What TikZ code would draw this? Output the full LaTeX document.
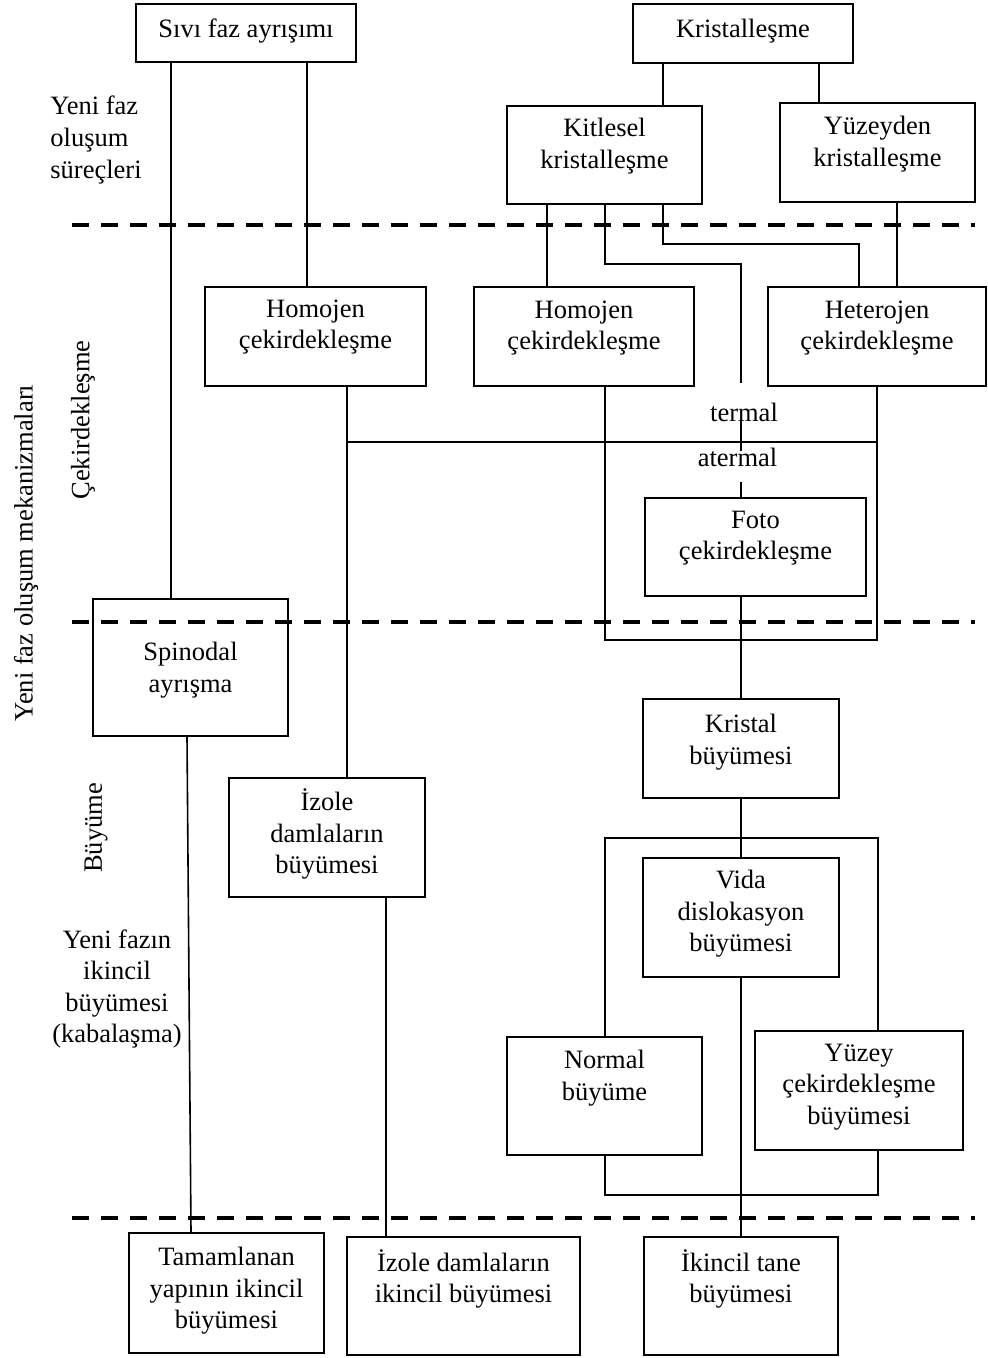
\documentclass[tikz,border=0pt]{standalone}
\usepackage{fontspec}
\setmainfont{Liberation Serif}
\usepackage{tikz}

\begin{document}
\begin{tikzpicture}[x=0.5pt, y=-0.5pt,
		kutu/.style={draw, line width=0.9pt, inner sep=0pt},
		yazi/.style={align=center, inner sep=0pt, font=\fontsize{13.25}{15.8}\selectfont},
		hat/.style={line width=0.8pt},
		ayrac/.style={line width=2pt, dash pattern=on 8.5pt off 6pt}]
	\useasboundingbox (0,0) rectangle (988,1358);

	% ust kutular
	\node (sivi) [kutu, minimum width=110pt, minimum height=29pt] at (246,33) {};
	\node (sivi-t) [yazi] at (246,31) {Sıvı faz ayrışımı};
	\node (krist) [kutu, minimum width=110pt, minimum height=29.5pt] at (743,33.5) {};
	\node (krist-t) [yazi] at (743,31) {Kristalleşme};
	\node (kitle) [kutu, minimum width=97.5pt, minimum height=49pt] at (604.5,155) {};
	\node (kitle-t) [yazi] at (604.5,146) {Kitlesel\\kristalleşme};
	\node (yuzden) [kutu, minimum width=97.5pt, minimum height=49.5pt] at (877.5,152.5) {};
	\node (yuzden-t) [yazi] at (877.5,144) {Yüzeyden\\kristalleşme};

	% cekirdeklesme
	\node (homo1) [kutu, minimum width=110.5pt, minimum height=49.5pt] at (315.5,336.5) {};
	\node (homo1-t) [yazi] at (315.5,327) {Homojen\\çekirdekleşme};
	\node (homo2) [kutu, minimum width=110pt, minimum height=49.5pt] at (584,336.5) {};
	\node (homo2-t) [yazi] at (584,328) {Homojen\\çekirdekleşme};
	\node (hetero) [kutu, minimum width=109pt, minimum height=49.5pt] at (877,336.5) {};
	\node (hetero-t) [yazi] at (877,328) {Heterojen\\çekirdekleşme};
	\node (termal) [yazi] at (744,412) {termal};
	\node (atermal) [yazi] at (737.5,457) {atermal};
	\node (foto) [kutu, minimum width=110.5pt, minimum height=49pt] at (755.5,547) {};
	\node (foto-t) [yazi] at (755.5,538) {Foto\\çekirdekleşme};

	% buyume
	\node (spin) [kutu, minimum width=97.5pt, minimum height=68.5pt] at (190.5,667.5) {};
	\node (spin-t) [yazi] at (190.5,670) {Spinodal\\ayrışma};
	\node (kbuy) [kutu, minimum width=98pt, minimum height=49.5pt] at (741,748.5) {};
	\node (kbuy-t) [yazi] at (741,742) {Kristal\\büyümesi};
	\node (izole) [kutu, minimum width=98pt, minimum height=59.5pt] at (327,837.5) {};
	\node (izole-t) [yazi] at (327,834) {İzole\\damlaların\\büyümesi};
	\node (vida) [kutu, minimum width=98pt, minimum height=59.5pt] at (741,917.5) {};
	\node (vida-t) [yazi] at (741,914) {Vida\\dislokasyon\\büyümesi};
	\node (normal) [kutu, minimum width=97.5pt, minimum height=59pt] at (604.5,1096) {};
	\node (normal-t) [yazi] at (604.5,1078) {Normal\\büyüme};
	\node (yuzey) [kutu, minimum width=104pt, minimum height=59.5pt] at (859,1090.5) {};
	\node (yuzey-t) [yazi] at (859,1087) {Yüzey\\çekirdekleşme\\büyümesi};

	% ikincil buyume
	\node (tama) [kutu, minimum width=97.5pt, minimum height=60pt] at (226.5,1293) {};
	\node (tama-t) [yazi] at (226.5,1291) {Tamamlanan\\yapının ikincil\\büyümesi};
	\node (izole2) [kutu, minimum width=116.5pt, minimum height=59pt] at (463.5,1296) {};
	\node (izole2-t) [yazi] at (463.5,1279) {İzole damlaların\\ikincil büyümesi};
	\node (ikincil) [kutu, minimum width=97pt, minimum height=59pt] at (741,1296) {};
	\node (ikincil-t) [yazi] at (741,1279) {İkincil tane\\büyümesi};

	% sol yazilar
	\node (surec) [yazi, align=left, anchor=west] at (50,140) {Yeni faz\\oluşum\\süreçleri};
	\node (mekan) [yazi, rotate=90] at (26,553) {Yeni faz oluşum mekanizmaları};
	\node (cekir) [yazi, rotate=90] at (83,420) {Çekirdekleşme};
	\node (buyu) [yazi, rotate=90] at (96,828) {Büyüme};
	\node (kaba) [yazi] at (117,989) {Yeni fazın\\ikincil\\büyümesi\\(kabalaşma)};

	\foreach \y in {225,622,1218}
		\draw [ayrac] (72,\y) -- (975,\y);

	\coordinate (tuc) at (741,383);
	\coordinate (ftop) at (741,482);
	\coordinate (solh) at (347,442);
	\coordinate (sagh) at (877,442);

	\draw [hat] (sivi.south -| 171,0) -- (spin.north -| 171,0);
	\draw [hat] (sivi.south -| 307,0) -- (homo1.north -| 307,0);
	\draw [hat] (krist.south -| 663,0) -- (kitle.north -| 663,0);
	\draw [hat] (krist.south -| 819,0) -- (yuzden.north -| 819,0);
	\draw [hat] (kitle.south -| 547,0) -- (homo2.north -| 547,0);
	\draw [hat] (kitle.south -| 605,0) -- (605,264) -| (tuc);
	\draw [hat] (kitle.south -| 663,0) -- (663,244) -| (hetero.north -| 859,0);
	\draw [hat] (yuzden.south -| 897,0) -- (hetero.north -| 897,0);
	\draw [hat] (homo1.south -| 347,0) -- (izole.north -| 347,0);
	\draw [hat] (solh) -- (sagh);
	\draw [hat] (termal.base -| 741,0) -- ([yshift=-2pt]atermal.north -| 741,0);
	\draw [hat] (ftop) -- (foto.north -| 741,0);
	\draw [hat] (homo2.south -| 605,0) -- (605,640) -| (hetero.south -| 877,0);
	\draw [hat] (foto.south -| 741,0) -- (kbuy.north);
	\draw [hat] (kbuy.south) -- (vida.north);
	\draw [hat] (normal.north -| 605,0) -- (605,838) -| (yuzey.north -| 878,0);
	\draw [hat] (vida.south) -- (ikincil.north);
	\draw [hat] (normal.south -| 605,0) -- (605,1195) -| (yuzey.south -| 878,0);
	\draw [hat] (spin.south -| 187,0) -- (tama.north -| 191,0);
	\draw [hat] (izole.south -| 386,0) -- (izole2.north -| 386,0);
\end{tikzpicture}
\end{document}
